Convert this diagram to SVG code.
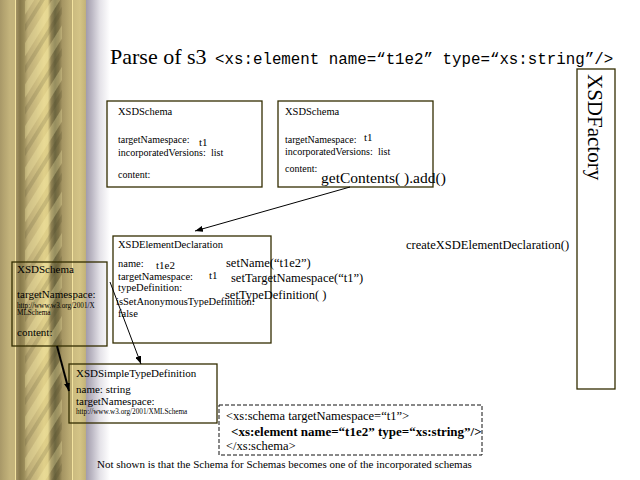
<svg xmlns="http://www.w3.org/2000/svg" width="640" height="480" viewBox="0 0 640 480">
<style>
.box{fill:none;stroke:#332d00;stroke-width:1.3}
.dash{fill:none;stroke:#111;stroke-width:1;stroke-dasharray:4 2}
.t{font-family:"Liberation Serif","Times New Roman",serif;fill:#000}
.m{font-family:"Liberation Mono","Courier New",monospace;fill:#000}
.s10{font-size:10px}
.s11{font-size:11px}
.call{font-size:12.5px}
.url{font-size:7.2px}
.conn{stroke:#000;fill:none}
</style>
<defs>
<linearGradient id="strip" gradientUnits="userSpaceOnUse" x1="0" y1="0" x2="110" y2="0">
<stop offset="0" stop-color="#a89868"/>
<stop offset="0.036" stop-color="#b4a470"/>
<stop offset="0.091" stop-color="#c4b47c"/>
<stop offset="0.132" stop-color="#c4b47c"/>
<stop offset="0.136" stop-color="#f4e4a0"/>
<stop offset="0.145" stop-color="#f4e4a0"/>
<stop offset="0.15" stop-color="#a09062"/>
<stop offset="0.182" stop-color="#86784a"/>
<stop offset="0.218" stop-color="#988a58"/>
<stop offset="0.255" stop-color="#bcac76"/>
<stop offset="0.327" stop-color="#ccbc80"/>
<stop offset="0.40" stop-color="#e0d08a"/>
<stop offset="0.436" stop-color="#dccc86"/>
<stop offset="0.464" stop-color="#908254"/>
<stop offset="0.50" stop-color="#6c6640"/>
<stop offset="0.536" stop-color="#807448"/>
<stop offset="0.564" stop-color="#a49462"/>
<stop offset="0.636" stop-color="#bcac74"/>
<stop offset="0.65" stop-color="#bcac74"/>
<stop offset="0.655" stop-color="#f4e4a0"/>
<stop offset="0.664" stop-color="#f4e4a0"/>
<stop offset="0.668" stop-color="#ccbc80"/>
<stop offset="0.727" stop-color="#d4c486"/>
<stop offset="0.777" stop-color="#c4b478"/>
<stop offset="0.782" stop-color="#a29cac"/>
<stop offset="0.836" stop-color="#bcb8c4"/>
<stop offset="0.909" stop-color="#e4e2e8"/>
<stop offset="1" stop-color="#ffffff"/>
</linearGradient>
<pattern id="twist" patternUnits="userSpaceOnUse" width="22" height="22" patternTransform="rotate(32)">
<rect x="0" y="0" width="7" height="22" fill="#fff3b0" opacity="0.28"/>
<rect x="12" y="0" width="4" height="22" fill="#3a3418" opacity="0.15"/>
</pattern>
<marker id="arr" markerWidth="8" markerHeight="6" refX="8" refY="3" orient="auto" markerUnits="userSpaceOnUse">
<path d="M0,0 L8,3 L0,6 z" fill="#000"/>
</marker>
</defs>
<g id="background">
<rect x="0" y="0" width="640" height="480" fill="#fff"/>
<rect x="0" y="0" width="110" height="480" fill="url(#strip)"/>
<rect x="25" y="0" width="37" height="480" fill="url(#twist)"/>
</g>
<g id="title">
<text class="t" x="110" y="64" font-size="22">Parse of s3</text>
<text class="m" x="215" y="64" font-size="15.8">&lt;xs:element name=“t1e2” type=“xs:string”/&gt;</text>
</g>
<g id="schema1">
<rect class="box" x="107" y="101" width="155" height="86"/>
<text class="t" x="118" y="115" font-size="10.5">XSDSchema</text>
<text class="t s10" x="118" y="143">targetNamespace:</text>
<text class="t s11" x="199" y="146">t1</text>
<text class="t s10" x="118" y="155.5">incorporatedVersions:</text>
<text class="t s10" x="211" y="155.5">list</text>
<text class="t s10" x="118" y="178">content:</text>
</g>
<g id="schema2">
<rect class="box" x="278" y="101" width="155" height="86"/>
<text class="t" x="285" y="115" font-size="10.5">XSDSchema</text>
<text class="t s10" x="285" y="143">targetNamespace:</text>
<text class="t s11" x="364" y="141">t1</text>
<text class="t s10" x="285" y="155">incorporatedVersions:</text>
<text class="t s10" x="378" y="155">list</text>
<text class="t s10" x="285" y="172">content:</text>
</g>
<g id="elementDeclaration">
<rect class="box" x="113" y="236" width="158" height="107"/>
<text class="t" x="118" y="248" font-size="10.5">XSDElementDeclaration</text>
<text class="t" x="118" y="267" font-size="10.5">name:</text>
<text class="t s11" x="156" y="269">t1e2</text>
<text class="t" x="118" y="279.5" font-size="10.5">targetNamespace:</text>
<text class="t s11" x="209" y="278.5">t1</text>
<text class="t" x="118" y="291" font-size="10.5">typeDefinition:</text>
<text class="t" x="116" y="305" font-size="10.5">isSetAnonymousTypeDefinition:</text>
<text class="t" x="118" y="317" font-size="10.5">false</text>
</g>
<g id="factory">
<rect class="box" x="577" y="69" width="38" height="320"/>
<text class="t" transform="translate(588,74) rotate(90)" font-size="21" fill="#221e00">XSDFactory</text>
</g>
<g id="schemaForSchemas">
<rect class="box" x="12" y="262" width="95" height="84"/>
<text class="t s11" x="17" y="273">XSDSchema</text>
<text class="t s11" x="17" y="298">targetNamespace:</text>
<text class="t url" x="17" y="308">http://www.w3.org/2001/X</text>
<text class="t url" x="17" y="315">MLSchema</text>
<text class="t s11" x="17" y="336">content:</text>
</g>
<g id="simpleTypeDefinition">
<rect class="box" x="69" y="364" width="148" height="59"/>
<text class="t" x="76" y="377" font-size="11">XSDSimpleTypeDefinition</text>
<text class="t" x="76" y="393" font-size="11">name: string</text>
<text class="t" x="76" y="405" font-size="11">targetNamespace:</text>
<text class="t url" x="76" y="414">http://www.w3.org/2001/XMLSchema</text>
</g>
<g id="connectors">
<line class="conn" x1="350" y1="187" x2="195" y2="231" stroke-width="1" marker-end="url(#arr)"/>
<line class="conn" x1="57" y1="346" x2="69" y2="391" stroke-width="2" marker-end="url(#arr)"/>
<line class="conn" x1="110" y1="282" x2="141" y2="364" stroke-width="1" marker-end="url(#arr)"/>
<text class="t" x="321" y="183" font-size="15.5">getContents( ).add()</text>
<text class="t call" x="226" y="267">setName(“t1e2”)</text>
<text class="t call" x="231" y="282">setTargetNamespace(“t1”)</text>
<text class="t call" x="225" y="299">setTypeDefinition( )</text>
<text class="t call" x="406" y="249">createXSDElementDeclaration()</text>
</g>
<g id="xmlSource">
<rect class="dash" x="219" y="405" width="263" height="50"/>
<text class="t" x="226" y="420" font-size="12.5">&lt;xs:schema targetNamespace=“t1”&gt;</text>
<text class="t" x="231" y="436" font-size="13" font-weight="bold">&lt;xs:element name=“t1e2” type=“xs:string”/&gt;</text>
<text class="t" x="226" y="450" font-size="12.5">&lt;/xs:schema&gt;</text>
</g>
<g id="note">
<text class="t" x="97" y="468" font-size="11">Not shown is that the Schema for Schemas becomes one of the incorporated schemas</text>
</g>
</svg>
